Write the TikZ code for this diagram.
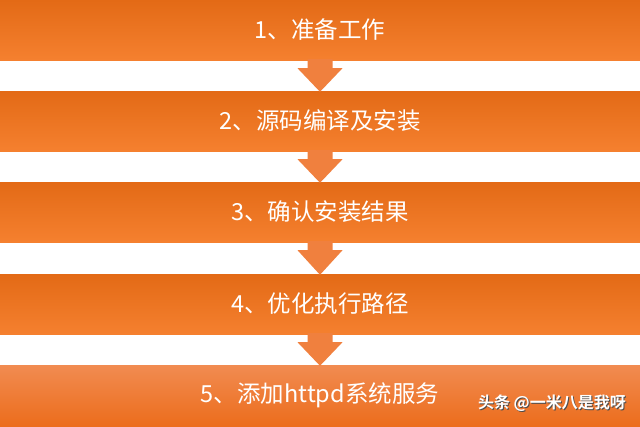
\documentclass[tikz,border=0pt]{standalone}
\usepackage{fontspec}
\setmainfont{Noto Sans CJK SC}
\newfontfamily\wmfont{Noto Sans CJK SC Bold}
\usetikzlibrary{calc}
\definecolor{bartop}{HTML}{E36A16}
\definecolor{barbot}{HTML}{F5802F}
\definecolor{lasttop}{HTML}{F18B51}
\definecolor{lastbot}{HTML}{EC6D1C}
\definecolor{arrowfill}{HTML}{F0803E}
\begin{document}
\begin{tikzpicture}[x=1pt,y=-1pt,
  bar/.style={rectangle,inner sep=0pt,minimum width=640pt,minimum height=60pt,
    top color=bartop,bottom color=barbot,text=white,
    font=\fontsize{23.5}{26}\selectfont},
  lastbar/.style={bar,minimum height=61pt,top color=lasttop,bottom color=lastbot},
  blockarrow/.style={fill=arrowfill,draw=none},
  wm/.style={inner sep=0pt,anchor=south east,font=\wmfont\fontsize{16}{18}\selectfont}]
\useasboundingbox (0,0) rectangle (640,426);
\fill[white] (0,0) rectangle (640,426);
\node[bar] (b1) at (320,30) {1、准备工作};
\node[bar] (b2) at (320,121) {2、源码编译及安装};
\node[bar] (b3) at (320,212) {3、确认安装结果};
\node[bar] (b4) at (320,304) {4、优化执行路径};
\node[lastbar] (b5) at (320,395.5) {5、添加httpd系统服务};
\foreach \a/\b in {b1/b2,b2/b3,b3/b4,b4/b5}{
  \fill[blockarrow] ($(\a.south)+(-12.5,-1)$) -- ($(\a.south)+(12.5,-1)$)
    -- ($(\a.south)+(12.5,8)$) -- ($(\a.south)+(22.5,8)$)
    -- ($(\b.north)+(0,1)$)
    -- ($(\a.south)+(-22.5,8)$) -- ($(\a.south)+(-12.5,8)$) -- cycle;
}
\node[wm,text=black!70] (wmshadow) at (627,413) {头条 @一米八是我呀};
\node[wm,text=white] (wmark) at (626,412) {头条 @一米八是我呀};
\end{tikzpicture}
\end{document}
